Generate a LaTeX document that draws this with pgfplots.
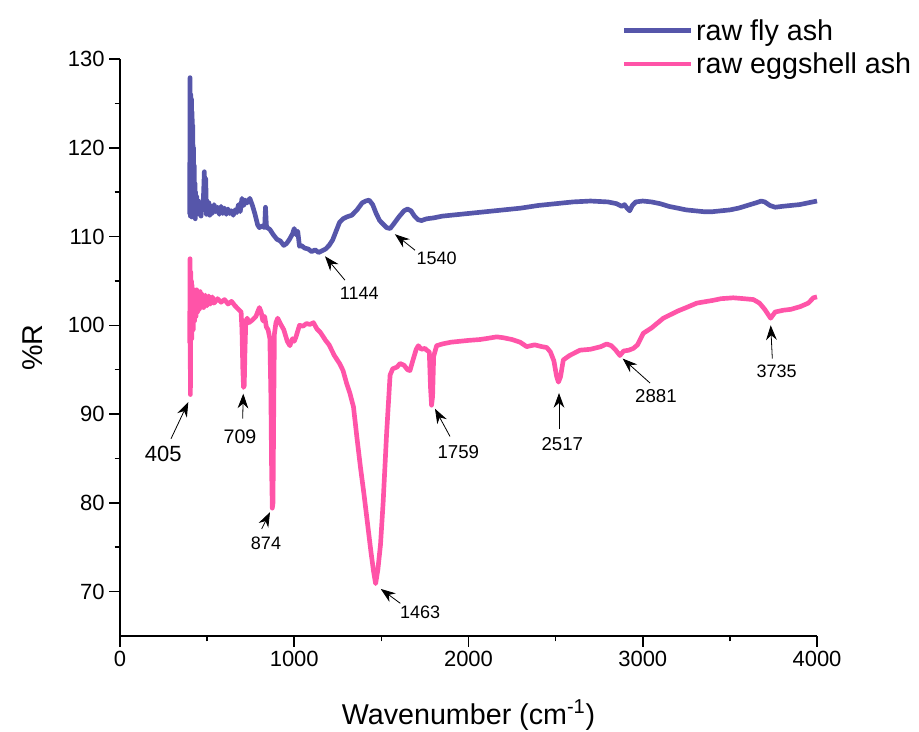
\documentclass[border=0pt]{standalone}
\usepackage{fontspec}
\setmainfont{Liberation Sans}
\usepackage{pgfplots}
\pgfplotsset{compat=1.18}
\usetikzlibrary{arrows.meta}

\definecolor{flyash}{RGB}{86,86,170}
\definecolor{eggshell}{RGB}{255,84,168}

\pgfplotstableread{
x y
400 112.5
402 127.9
404 112.3
406 126
408 113
410 125.5
412 112.2
414 124
416 114
418 122.5
420 113
422 120
424 112.4
426 118
428 113
430 116
432 112
434 115
436 112.6
440 114.5
445 112.8
450 114
455 112.5
460 113.8
465 112.3
470 113.5
475 113
480 115
484 117.3
488 113
492 116.5
496 112.5
500 114
505 112.6
510 113.8
515 112.4
520 113.5
530 112.6
540 113.6
550 112.8
560 113.3
570 112.5
580 113.4
590 112.6
600 113.2
610 112.5
620 113.1
630 112.6
640 112.9
650 112.4
660 113
670 112.7
680 113.6
690 112.8
700 114.3
710 113.5
720 114.1
730 113.8
745 114.3
760 113.5
775 112.5
790 111.3
800 111.0
815 111.2
830 111.0
835 113.3
840 111.3
845 111
860 110.8
880 110.2
900 109.7
920 109.5
940 109.0
955 109.2
970 109.6
990 110.3
1000 110.9
1010 110.2
1020 110.6
1030 108.9
1040 109.0
1060 108.7
1080 108.6
1100 108.3
1120 108.5
1140 108.2
1160 108.4
1180 108.6
1200 109.0
1220 109.6
1240 110.6
1260 111.6
1280 112.0
1300 112.2
1330 112.4
1360 113.0
1390 113.8
1410 114.0
1430 114.1
1450 113.6
1470 112.6
1490 111.8
1510 111.4
1530 111.0
1550 110.9
1570 111.4
1600 112.2
1630 112.9
1650 113.1
1670 112.9
1690 112.3
1710 111.9
1730 111.8
1760 112.0
1800 112.1
1850 112.3
1900 112.4
1950 112.5
2000 112.6
2100 112.8
2200 113.0
2300 113.2
2400 113.5
2500 113.7
2600 113.9
2700 114.0
2800 113.9
2850 113.7
2880 113.4
2895 113.6
2910 113.2
2925 112.9
2940 113.5
2960 113.9
3000 114.0
3050 113.9
3100 113.7
3150 113.4
3200 113.2
3250 113.0
3300 112.9
3350 112.8
3400 112.8
3450 112.9
3500 113.0
3550 113.2
3600 113.5
3650 113.8
3680 114.0
3700 113.9
3730 113.5
3760 113.3
3800 113.4
3850 113.5
3900 113.6
3950 113.8
4000 114.0
}\flyashdata

\pgfplotstableread{
x y
400 98
402 107.5
404 92.2
406 106
408 99
410 105
412 98.5
414 104.5
416 100
418 104
420 99.5
424 104
428 100.5
432 103.8
436 101
440 104
445 101.5
450 103.6
455 101.8
460 103.8
465 102
470 103.5
480 102
490 103.4
500 102.2
510 103.3
520 102.4
530 103.2
540 102.5
560 103
580 102.6
600 102.9
620 102.4
640 102.7
660 102.2
680 101.8
695 101.5
700 99.5
705 95
709 93
713 93.2
717 97
722 100.5
730 100.8
740 100.3
760 100.6
780 101
800 102
810 101.5
820 100.5
830 101
840 99.8
850 99.5
860 98.5
866 92
870 84
874 79.4
878 80
882 90
886 99
895 100.3
905 100.8
920 100.2
940 99.5
960 98.2
975 97.7
990 98.5
1000 98.2
1010 98.7
1030 100
1050 99.9
1070 100.2
1090 100.1
1110 100.3
1130 99.6
1150 99.2
1180 98.3
1200 97.8
1230 96.6
1260 95.7
1280 94.9
1300 93.5
1320 92.3
1340 90.8
1360 87.3
1380 84.0
1400 81.0
1416 78.4
1440 74.5
1455 72.3
1467 70.9
1480 72.5
1495 75.3
1510 80
1530 87.8
1550 94.4
1565 95.1
1590 95.3
1607 95.7
1630 95.5
1650 95.0
1664 94.9
1680 96
1700 97.3
1712 97.7
1730 97.3
1750 97.4
1760 97.2
1775 97
1782 93
1788 91
1794 92
1800 96.5
1817 97.7
1850 97.9
1900 98.1
1950 98.2
2000 98.3
2066 98.4
2100 98.5
2162 98.7
2200 98.6
2250 98.4
2296 98.1
2334 97.6
2380 97.8
2420 97.6
2449 97.5
2470 97.0
2490 96.0
2505 94.3
2516 93.6
2528 94.2
2544 96.1
2580 96.6
2640 97.2
2700 97.3
2760 97.6
2793 97.9
2820 97.7
2845 97.2
2869 96.6
2890 97.1
2920 97.2
2946 97.4
2970 97.8
3003 99.1
3050 99.7
3118 100.8
3200 101.6
3250 102.0
3310 102.5
3400 102.8
3450 103.0
3520 103.1
3580 103.0
3635 102.9
3670 102.5
3700 101.8
3734 100.8
3760 101.5
3807 101.7
3850 101.8
3903 102.1
3950 102.5
3979 103.1
4000 103.2
}\eggshelldata

\tikzset{peak/.style={-{Stealth[length=11pt,width=8pt]}, line width=0.6pt, black}}

\begin{document}
\begin{tikzpicture}
  % page = 919x731 px at 0.75pt per px, axis box corner at (120,636) px
  \useasboundingbox (-90pt,-71.25pt) rectangle (599.25pt,477pt);
  \begin{axis}[
    at={(0pt,0pt)}, anchor=south west,
    scale only axis, width=522.75pt, height=432.75pt,
    xmin=0, xmax=4000, ymin=65, ymax=130,
    axis lines=left,
    axis line style={-, line width=1.4pt},
    xtick={0,1000,2000,3000,4000},
    ytick={70,80,90,100,110,120,130},
    minor x tick num=1, minor y tick num=1,
    tick align=outside,
    major tick length=8pt, minor tick length=4pt,
    every tick/.style={black, line width=1.2pt},
    /pgf/number format/assume math mode=true,
    /pgf/number format/1000 sep={},
    tick label style={font=\fontsize{16.5}{19}\selectfont},
    xlabel={Wavenumber (cm\textsuperscript{-1})},
    ylabel={\%R},
    label style={font=\fontsize{21.5}{26}\selectfont},
    xlabel style={at={(axis description cs:0.5,-0.137)}, anchor=center},
    ylabel style={at={(axis description cs:-0.126,0.5)}, anchor=center},
    clip=false,
    legend cell align=left,
    legend style={at={(axis description cs:0.72,1.074)}, anchor=north west,
      draw=none, fill=none, font=\fontsize{21.5}{26}\selectfont,
      row sep=4pt, inner sep=0pt},
    legend image code/.code={\draw[#1, line width=3.5pt] (0pt,0pt) -- (50pt,0pt);},
  ]
    \addplot[flyash, line width=3.5pt, line join=round] table[x=x, y=y] {\flyashdata};
    \addlegendentry{raw fly ash}
    \addplot[eggshell, line width=3.5pt, line join=round] table[x=x, y=y] {\eggshelldata};
    \addlegendentry{raw eggshell ash}

    \draw[peak] (axis cs:292.7,87.22) -- (axis cs:392,91.35);
    \node[font=\fontsize{16.5}{19}\selectfont] at (axis cs:248.5,85.53) {405};
    \draw[peak] (axis cs:704,89.5) -- (axis cs:707.6,92.3);
    \node[font=\fontsize{14.7}{17}\selectfont] at (axis cs:688.7,87.4) {709};
    \draw[peak] (axis cs:813.2,77.07) -- (axis cs:860.8,78.95);
    \node[font=\fontsize{13.5}{16}\selectfont] at (axis cs:837.9,75.4) {874};
    \draw[peak] (axis cs:1291,105.08) -- (axis cs:1176.5,107.78);
    \node[font=\fontsize{13.5}{16}\selectfont] at (axis cs:1373,103.64) {1144};
    \draw[peak] (axis cs:1693,108.46) -- (axis cs:1578,110.26);
    \node[font=\fontsize{13.5}{16}\selectfont] at (axis cs:1817.5,107.52) {1540};
    \draw[peak] (axis cs:1608.6,68.68) -- (axis cs:1496.7,70.3);
    \node[font=\fontsize{13.5}{16}\selectfont] at (axis cs:1722.8,67.67) {1463};
    \draw[peak] (axis cs:1893.8,87.48) -- (axis cs:1807.7,90.6);
    \node[font=\fontsize{14}{16}\selectfont] at (axis cs:1941.5,85.71) {1759};
    \draw[peak] (axis cs:2519.4,88.35) -- (axis cs:2519.4,92.37);
    \node[font=\fontsize{14}{16}\selectfont] at (axis cs:2538.3,86.66) {2517};
    \draw[peak] (axis cs:3041.6,93.5) -- (axis cs:2885,96.25);
    \node[font=\fontsize{14}{16}\selectfont] at (axis cs:3076,92.0) {2881};
    \draw[peak] (axis cs:3743.5,96.25) -- (axis cs:3734.3,100.0);
    \node[font=\fontsize{13.5}{16}\selectfont] at (axis cs:3768.7,94.85) {3735};
  \end{axis}
\end{tikzpicture}
\end{document}
